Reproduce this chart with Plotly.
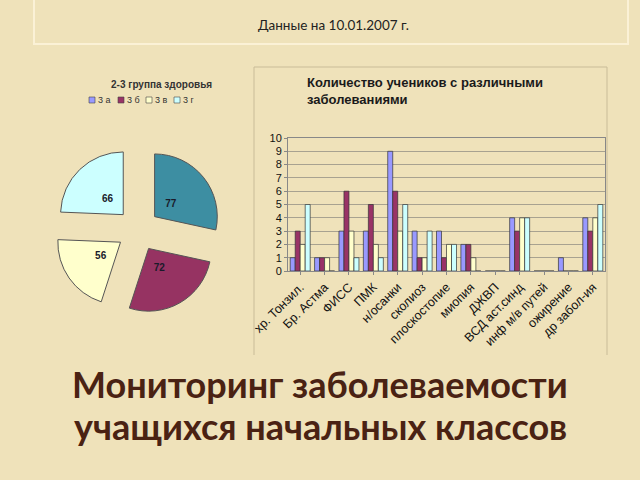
import plotly.graph_objects as go

W, H = 640, 480
BG = "#EFE2BA"

# ---- data ----
pie_labels = ["3 а", "3 б", "3 в", "3 г"]
pie_values = [77, 72, 56, 66]
pie_colors = ["#3D8EA2", "#963362", "#FFFFCC", "#CCFFFF"]
legend_colors = ["#9999FF", "#993366", "#FFFFCC", "#CCFFFF"]

categories = ["хр. Тонзил.", "Бр. Астма", "ФИСС", "ПМК", "н/осанки", "сколиоз",
              "плоскостопие", "миопия", "ДЖВП", "ВСД аст.синд", "инф м/в путей",
              "ожирение", "др забол-ия"]
series_names = ["3 а", "3 б", "3 в", "3 г"]
s_3a = [1, 1, 3, 3, 9, 3, 3, 2, 0, 4, 0, 1, 4]
s_3b = [3, 1, 6, 5, 6, 1, 1, 2, 0, 3, 0, 0, 3]
s_3v = [2, 1, 3, 2, 3, 1, 2, 1, 0, 4, 0, 0, 4]
s_3g = [5, 0, 1, 1, 5, 3, 2, 0, 0, 4, 0, 0, 5]
bar_colors = ["#9999FF", "#993366", "#FFFFCC", "#CCFFFF"]
y_ticks = list(range(0, 11))


def px(x):
    return x / W


def py(y):
    return 1 - y / H


fig = go.Figure()

# visible exploded pie (no text)
fig.add_trace(go.Pie(
    labels=pie_labels, values=pie_values, sort=False, direction="clockwise",
    rotation=0, pull=[0.34] * 4,
    marker=dict(colors=pie_colors, line=dict(color="#555555", width=1)),
    textinfo="none",
    domain=dict(x=[px(54), px(222)], y=[py(314), py(146)]),
    showlegend=False, hoverinfo="label+value",
))
# transparent, smaller pie carrying the value labels closer to the centre
fig.add_trace(go.Pie(
    labels=pie_labels, values=pie_values, sort=False, direction="clockwise",
    rotation=0, pull=[0.34] * 4,
    marker=dict(colors=["rgba(0,0,0,0)"] * 4, line=dict(width=0)),
    textinfo="value", textposition="inside", insidetextorientation="horizontal",
    textfont=dict(family="Arial", size=10, color="#1a1a2a", weight="bold"),
    domain=dict(x=[px(75), px(201)], y=[py(293), py(167)]),
    showlegend=False, hoverinfo="skip",
))

for name, vals, col in zip(series_names, [s_3a, s_3b, s_3v, s_3g], bar_colors):
    fig.add_trace(go.Bar(
        x=categories, y=vals, name=name,
        marker=dict(color=col, line=dict(color="#333333", width=0.7)),
        showlegend=False, xaxis="x", yaxis="y",
    ))

fig.update_layout(
    width=W, height=H, margin=dict(l=0, r=0, t=0, b=0, autoexpand=False),
    paper_bgcolor=BG, plot_bgcolor=BG,
    barmode="group", bargap=0.18, bargroupgap=0,
    xaxis=dict(domain=[px(288), px(605)], type="category", automargin=False,
               tickangle=-45, tickfont=dict(family="Arial", size=12.5, color="#111111"),
               showgrid=False, showline=True, linecolor="#888888", mirror=True,
               ticks="outside", ticklen=3, tickcolor="#888888", zeroline=False),
    yaxis=dict(domain=[py(271), py(138)], range=[0, 10], tickvals=y_ticks, automargin=False,
               tickfont=dict(family="Arial", size=11, color="#111111"),
               showgrid=True, gridcolor="#A8A290", gridwidth=1,
               showline=True, linecolor="#888888", mirror=True,
               ticks="outside", ticklen=3, tickcolor="#888888", zeroline=False),
)

shapes = []
# top box
shapes.append(dict(type="rect", xref="paper", yref="paper",
                   x0=px(34), x1=px(628), y0=py(44), y1=py(-3),
                   line=dict(color="#FBF1D6", width=2)))
# bar panel border
for (x0, y0, x1, y1) in [(254, 355, 254, 67), (254, 67, 607, 67), (607, 67, 607, 355)]:
    shapes.append(dict(type="line", xref="paper", yref="paper",
                       x0=px(x0), y0=py(y0), x1=px(x1), y1=py(y1),
                       line=dict(color="#C9BC98", width=1)))

annotations = []
# pie legend
leg_x = [92, 121, 149, 177]
for lx, lab, col in zip(leg_x, pie_labels, legend_colors):
    shapes.append(dict(type="rect", xref="paper", yref="paper",
                       x0=px(lx - 3), x1=px(lx + 3), y0=py(103), y1=py(97),
                       fillcolor=col, line=dict(color="#444444", width=0.6)))
    annotations.append(dict(text=lab, xref="paper", yref="paper",
                            x=px(lx + 4), y=py(100), xanchor="left", yanchor="middle",
                            showarrow=False,
                            font=dict(family="Arial", size=9, color="#333333")))

annotations += [
    dict(text="Данные на 10.01.2007 г.", xref="paper", yref="paper",
         x=px(333), y=py(25), xanchor="center", yanchor="middle", showarrow=False,
         font=dict(family="Lato", size=13.5, color="#222222")),
    dict(text="<b>2-3 группа здоровья</b>", xref="paper", yref="paper",
         x=px(161), y=py(84), xanchor="center", yanchor="middle", showarrow=False,
         font=dict(family="Arial", size=10, color="#333333")),
    dict(text="<b>Количество учеников с различными<br>заболеваниями</b>",
         xref="paper", yref="paper", x=px(305), y=py(91), xanchor="left",
         yanchor="middle", align="left", showarrow=False,
         font=dict(family="Arial", size=13, color="#1a1a1a")),
    dict(text="<b>Мониторинг заболеваемости</b>", xref="paper", yref="paper",
         x=px(320), y=py(384), xanchor="center", yanchor="middle", showarrow=False,
         font=dict(family="Lato", size=36, color="#4A2213")),
    dict(text="<b>учащихся начальных классов</b>", xref="paper", yref="paper",
         x=px(320), y=py(426), xanchor="center", yanchor="middle", showarrow=False,
         font=dict(family="Lato", size=36, color="#4A2213")),
]

fig.update_layout(shapes=shapes, annotations=annotations)
fig.write_html("out.html")
